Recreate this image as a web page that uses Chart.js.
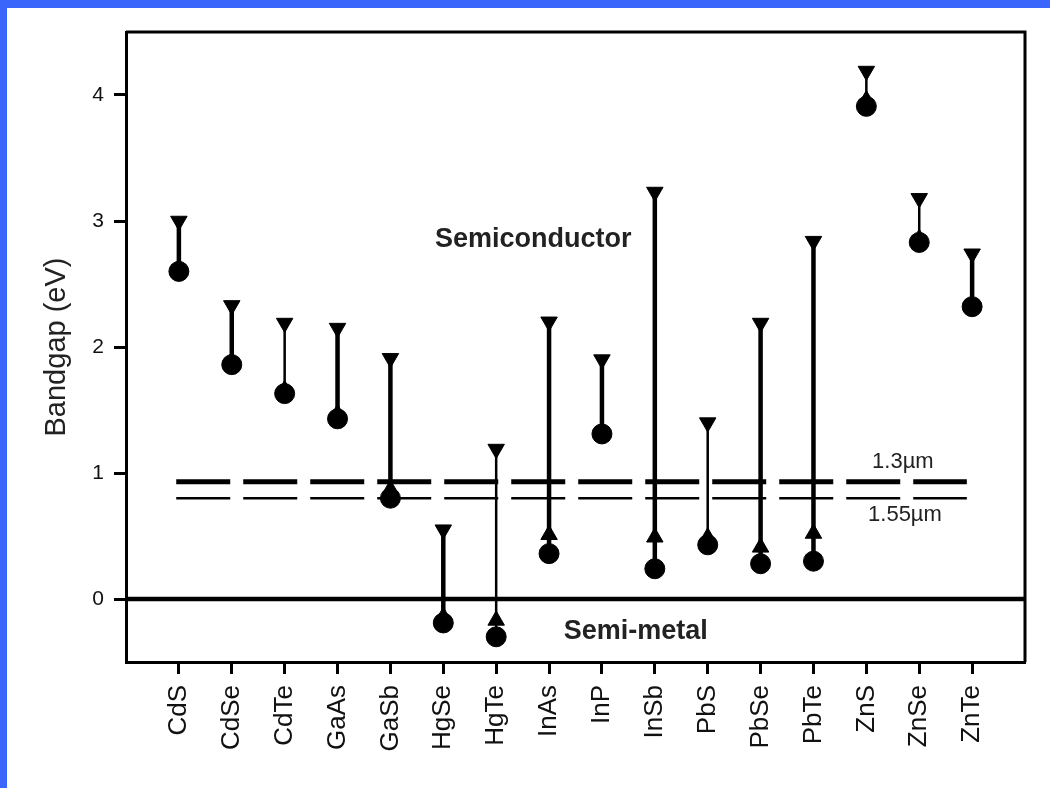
<!DOCTYPE html>
<html>
<head>
<meta charset="utf-8">
<title>Bandgap ranges</title>
<script src="https://cdn.jsdelivr.net/npm/chart.js@4.4.0/dist/chart.umd.min.js"></script>
<style>
  html, body { margin: 0; padding: 0; background: #fff; }
  #wrap { width: 1050px; height: 788px; position: relative; }
</style>
</head>
<body>
<div id="wrap"><canvas id="gapChart" width="1050" height="788"></canvas></div>
<script>
// Materials along the x axis
const compounds = ['CdS', 'CdSe', 'CdTe', 'GaAs', 'GaSb', 'HgSe', 'HgTe', 'InAs',
                   'InP', 'InSb', 'PbS', 'PbSe', 'PbTe', 'ZnS', 'ZnSe', 'ZnTe'];

// Bandgap values in eV: top of each range (▼), intermediate (▲), bottom (●)
const upperGap  = [3.00, 2.33, 2.19, 2.15, 1.91, 0.55, 1.19, 2.20, 1.90, 3.23, 1.40, 2.19, 2.84, 4.19, 3.18, 2.74];
const middleGap = [2.63, 1.89, 1.66, 1.47, 0.87, -0.14, -0.17, 0.51, 1.33, 0.49, 0.49, 0.41, 0.52, 3.96, 2.86, 2.33];
const lowerGap  = [2.60, 1.86, 1.63, 1.43, 0.80, -0.19, -0.30, 0.36, 1.31, 0.24, 0.43, 0.28, 0.30, 3.91, 2.83, 2.32];

// Value-axis tick labels
const gapTicks = [0, 1, 2, 3, 4];

// Telecom wavelength reference levels (eV) and their labels
const telecomGaps   = [0.93, 0.80];
const telecomLabels = ['1.3µm', '1.55µm'];
const telecomSpan   = [0.95, 15.9];

// Region captions
const regionLabels = ['Semiconductor', 'Semi-metal'];

const FONT = '"Liberation Sans", Arial, Helvetica, sans-serif';
const thinRange = new Set(['CdTe', 'HgTe', 'PbS', 'ZnS', 'ZnSe']);

function rangeSegments(thin) {
  const pts = [];
  compounds.forEach((name, i) => {
    if (thinRange.has(name) !== thin) return;
    pts.push({ x: i + 1, y: upperGap[i] });
    pts.push({ x: i + 1, y: lowerGap[i] });
    pts.push({ x: i + 1, y: null });
  });
  return pts;
}

const markers = (values) => values.map((v, i) => ({ x: i + 1, y: v }));

const pageFrame = {
  id: 'pageFrame',
  beforeDraw(chart) {
    const ctx = chart.ctx;
    ctx.save();
    ctx.fillStyle = '#ffffff';
    ctx.fillRect(0, 0, chart.width, chart.height);
    ctx.fillStyle = '#3a66fc';
    ctx.fillRect(0, 0, chart.width, 8);
    ctx.fillRect(0, 0, 7, chart.height);
    ctx.restore();
  },
  afterDraw(chart) {
    const { ctx, chartArea: a } = chart;
    ctx.save();
    ctx.strokeStyle = '#000';
    ctx.lineWidth = 3;
    ctx.beginPath();
    ctx.moveTo(a.left, a.top);
    ctx.lineTo(a.right, a.top);
    ctx.lineTo(a.right, a.bottom);
    ctx.stroke();
    ctx.restore();
  }
};

const captions = {
  id: 'captions',
  afterDatasetsDraw(chart) {
    const { ctx, scales: { x, y } } = chart;
    const put = (text, xv, yv, font, color) => {
      ctx.save();
      ctx.font = font;
      ctx.fillStyle = color;
      ctx.textAlign = 'center';
      ctx.textBaseline = 'middle';
      ctx.fillText(text, x.getPixelForValue(xv), y.getPixelForValue(yv));
      ctx.restore();
    };
    put(regionLabels[0], 7.70, 2.85, 'bold 27px ' + FONT, '#222');
    put(regionLabels[1], 9.64, -0.26, 'bold 27px ' + FONT, '#222');
    put(telecomLabels[0], 14.69, 1.09, '22px ' + FONT, '#222');
    put(telecomLabels[1], 14.73, 0.67, '22px ' + FONT, '#222');
  }
};

const refLine = (yv, x0, x1, width, dash) => ({
  type: 'line',
  data: [{ x: x0, y: yv }, { x: x1, y: yv }],
  borderColor: '#000',
  borderWidth: width,
  borderDash: dash,
  borderCapStyle: 'butt',
  pointRadius: 0,
  order: 3
});

new Chart(document.getElementById('gapChart'), {
  type: 'scatter',
  data: {
    datasets: [
      refLine(0, 0, 17, 4.5, []),
      refLine(telecomGaps[0], telecomSpan[0], telecomSpan[1], 5, [54, 13]),
      refLine(telecomGaps[1], telecomSpan[0], telecomSpan[1], 2.5, [54, 13]),
      {
        type: 'line', data: rangeSegments(false), spanGaps: false,
        borderColor: '#000', borderWidth: 4.5, borderCapStyle: 'butt',
        pointRadius: 0, order: 2
      },
      {
        type: 'line', data: rangeSegments(true), spanGaps: false,
        borderColor: '#000', borderWidth: 2.5, borderCapStyle: 'butt',
        pointRadius: 0, order: 2
      },
      {
        data: markers(middleGap), pointStyle: 'triangle', pointRotation: 0,
        pointRadius: 9.5, backgroundColor: '#000', borderColor: '#000', borderWidth: 1, order: 1
      },
      {
        data: markers(lowerGap), pointStyle: 'circle',
        pointRadius: 10, backgroundColor: '#000', borderColor: '#000', borderWidth: 1, order: 0
      },
      {
        data: markers(upperGap), pointStyle: 'triangle', pointRotation: 180,
        pointRadius: 9.5, backgroundColor: '#000', borderColor: '#000', borderWidth: 1, order: 0
      }
    ]
  },
  options: {
    responsive: false,
    animation: false,
    devicePixelRatio: 1,
    layout: { padding: { top: 32, right: 25, bottom: 0, left: 0 } },
    plugins: { legend: { display: false }, tooltip: { enabled: false } },
    scales: {
      x: {
        type: 'linear', min: 0, max: 17,
        afterBuildTicks: s => { s.ticks = compounds.map((_, i) => ({ value: i + 1 })); },
        afterFit: s => { s.height = 126; },
        ticks: {
          callback: v => compounds[Math.round(v) - 1] || '',
          minRotation: 90, maxRotation: 90, autoSkip: false, padding: 11,
          color: '#111', font: { family: FONT, size: 26 }
        },
        grid: { drawOnChartArea: false, drawTicks: true, tickLength: 12, tickWidth: 3, tickColor: '#000' },
        border: { display: true, width: 3, color: '#000' }
      },
      y: {
        type: 'linear', min: -0.5, max: 4.5,
        afterBuildTicks: s => { s.ticks = gapTicks.map(v => ({ value: v })); },
        afterFit: s => { s.width = 126; },
        ticks: { padding: 10, color: '#111', font: { family: FONT, size: 21 } },
        grid: { drawOnChartArea: false, drawTicks: true, tickLength: 12, tickWidth: 3, tickColor: '#000' },
        border: { display: true, width: 3, color: '#000' },
        title: {
          display: true, text: 'Bandgap (eV)', color: '#222',
          font: { family: FONT, size: 29 }, padding: { top: 40, bottom: 0 }
        }
      }
    }
  },
  plugins: [pageFrame, captions]
});
</script>
</body>
</html>
